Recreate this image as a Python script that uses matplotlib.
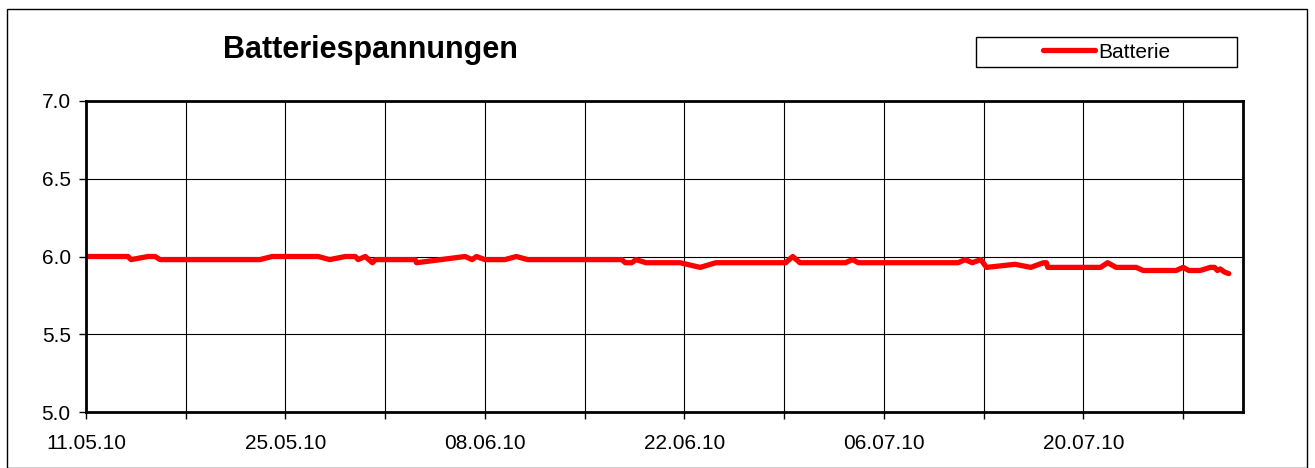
import numpy as np
import pandas as pd
import matplotlib
matplotlib.use("Agg")
import matplotlib.pyplot as plt
from matplotlib.patches import Rectangle

plt.rcParams['font.family'] = ['Liberation Sans', 'DejaVu Sans']

# Messdaten: Tage seit 11.05.10 und Batteriespannung (V)
start = pd.Timestamp("2010-05-11")
days = [0.0, 2.95, 3.16, 4.35, 4.85, 5.2, 12.2, 13.06, 16.3, 17.1, 18.2, 18.9,
        19.1, 19.6, 20.1, 20.3, 23.1, 23.2, 24.9, 26.6, 27.1, 27.4, 28.0, 29.4,
        30.2, 31.0, 37.6, 37.85, 38.3, 38.6, 39.3, 41.7, 43.1, 44.2, 49.1, 49.6,
        50.1, 53.3, 53.8, 54.2, 61.2, 61.7, 62.2, 62.8, 63.2, 65.2, 66.3, 67.2,
        67.4, 67.5, 71.2, 71.7, 72.3, 73.7, 74.2, 76.5, 77.0, 77.4, 78.2, 78.9,
        79.2, 79.4, 79.6, 79.9, 80.2]
volts = [6.00, 6.00, 5.98, 6.00, 6.00, 5.98, 5.98, 6.00, 6.00, 5.98, 6.00, 6.00,
         5.98, 6.00, 5.96, 5.98, 5.98, 5.96, 5.98, 6.00, 5.98, 6.00, 5.98, 5.98,
         6.00, 5.98, 5.98, 5.96, 5.96, 5.98, 5.96, 5.96, 5.93, 5.96, 5.96, 6.00,
         5.96, 5.96, 5.98, 5.96, 5.96, 5.98, 5.96, 5.98, 5.93, 5.95, 5.93, 5.96,
         5.96, 5.93, 5.93, 5.96, 5.93, 5.93, 5.91, 5.91, 5.93, 5.91, 5.91, 5.93,
         5.93, 5.91, 5.92, 5.90, 5.89]
x_end_days = 81.2
y_ticks = [5.0, 5.5, 6.0, 6.5, 7.0]

times = start + pd.to_timedelta(days, unit="D")

fig = plt.figure(figsize=(13.15, 4.68), dpi=100)
ax = fig.add_axes([86 / 1315, 1 - 412 / 468, (1243 - 86) / 1315, (412 - 101) / 468])

# Rahmen um das ganze Diagramm
fig.patches.append(Rectangle((7 / 1315, 0.0), 1300 / 1315, 1 - 9 / 468,
                             transform=fig.transFigure, fill=False,
                             edgecolor='black', linewidth=1.0))

line, = ax.plot(times, volts, color='#ff0000', linewidth=3.8,
                solid_capstyle='round', solid_joinstyle='round', label='Batterie')

ax.set_xlim(start, start + pd.Timedelta(days=x_end_days))
ax.set_ylim(5.0, 7.0)
ax.set_yticks(y_ticks)
ax.yaxis.set_major_formatter(plt.FormatStrFormatter('%.1f'))

week_ticks = pd.date_range(start, start + pd.Timedelta(days=x_end_days), freq='7D')
ax.set_xticks(week_ticks)
ax.set_xticklabels([t.strftime('%d.%m.%y') if i % 2 == 0 else '' for i, t in enumerate(week_ticks)])

ax.grid(True, color='black', linewidth=0.8)
ax.tick_params(axis='both', direction='out', length=5, width=1, labelsize=15, colors='black')
ax.tick_params(axis='x', pad=11)
ax.tick_params(axis='y', pad=6)
for sp in ax.spines.values():
    sp.set_linewidth(2)

fig.text(370 / 1315, 1 - 50 / 468, 'Batteriespannungen', fontsize=22, fontweight='bold',
         ha='center', va='center')

# Legende mit breitem Rahmen wie im Original
fig.patches.append(Rectangle((976 / 1315, 1 - 67 / 468), 261 / 1315, 30 / 468,
                             transform=fig.transFigure, facecolor='white',
                             edgecolor='black', linewidth=1.0))
leg = fig.legend(handles=[line], loc='center left', frameon=False, fontsize=15,
                 bbox_to_anchor=(1043 / 1315, 1 - 52 / 468), handlelength=2.5,
                 handletextpad=0.15, borderpad=0, borderaxespad=0)

fig.savefig('out.png', dpi=100)
